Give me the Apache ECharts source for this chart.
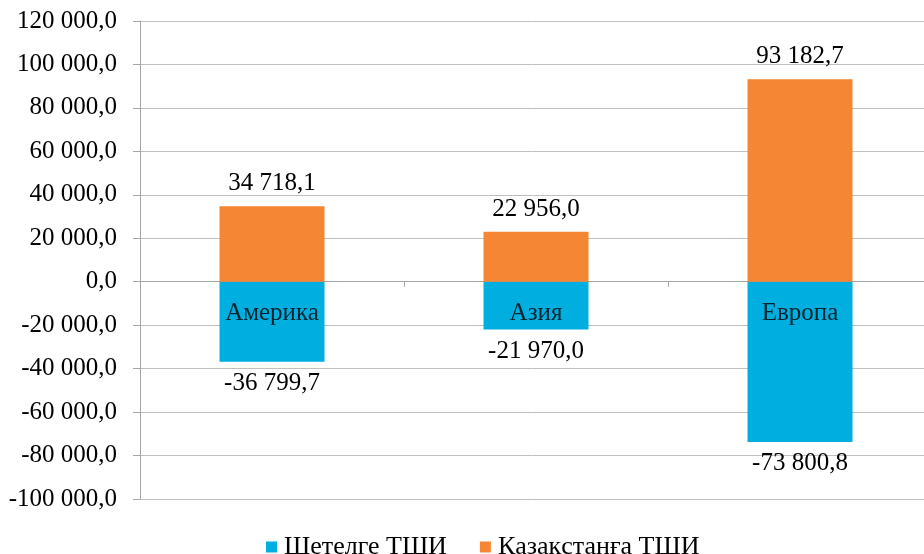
<!DOCTYPE html>
<html><head><meta charset="utf-8">
<script src="https://cdn.jsdelivr.net/npm/echarts@6/dist/echarts.min.js"></script>
<style>html,body{margin:0;padding:0;background:#fff}#c{width:924px;height:554px}</style>
</head><body><div id="c"></div>
<script>
const categories = ['Америка', 'Азия', 'Европа'];
const outward = [-36799.7, -21970.0, -73800.8];
const inward = [34718.1, 22956.0, 93182.7];
const seriesNames = ['Шетелге ТШИ', 'Қазақстанға ТШИ'];

function fmt(v) {
  const neg = v < 0;
  const s = Math.abs(v).toFixed(1).split('.');
  const int = s[0].replace(/\B(?=(\d{3})+(?!\d))/g, ' ');
  return (neg ? '-' : '') + int + ',' + s[1];
}
const FONT = '"Liberation Serif", "Times New Roman", serif';
const FS = 25;
const chart = echarts.init(document.getElementById('c'));
chart.setOption({
  animation: false,
  textStyle: { fontFamily: FONT },
  grid: { left: 140, width: 792, top: 21, bottom: 55, outerBoundsMode: 'none', containLabel: false },
  legend: {
    left: 261, top: 529, itemGap: 33, itemWidth: 11, itemHeight: 11, icon: 'rect',
    textStyle: { fontFamily: FONT, fontSize: 26, color: '#000', padding: [0, 0, 0, 2] },
    data: seriesNames
  },
  xAxis: {
    type: 'category', data: categories,
    axisLine: { onZero: true, lineStyle: { color: '#a6a6a6', width: 1 } },
    axisTick: { show: true, length: 5, lineStyle: { color: '#a6a6a6' } },
    axisLabel: { show: false }
  },
  yAxis: {
    type: 'value', min: -100000, max: 120000, interval: 20000,
    axisLine: { show: true, lineStyle: { color: '#a6a6a6' } },
    axisTick: { show: true, length: 7, lineStyle: { color: '#a6a6a6' } },
    splitLine: { lineStyle: { color: '#bfbfbf' } },
    axisLabel: { color: '#000', fontSize: FS, fontFamily: FONT, margin: 23, formatter: v => fmt(v) }
  },
  series: [
    {
      name: seriesNames[0], type: 'bar', stack: 'a', data: outward, barWidth: 105,
      itemStyle: { color: '#00aee0' },
      label: { show: true, position: 'bottom', distance: 9, color: '#000', fontSize: FS, fontFamily: FONT, formatter: p => fmt(p.value) }
    },
    {
      name: seriesNames[1], type: 'bar', stack: 'a', data: inward, barWidth: 105,
      itemStyle: { color: '#f58634' },
      label: { show: true, position: 'top', distance: 10, color: '#000', fontSize: FS, fontFamily: FONT, formatter: p => fmt(p.value) }
    },
    {
      name: 'categoryLabels', type: 'scatter', z: 10, symbolSize: 0, silent: true,
      data: categories.map(c => [c, 0]),
      label: { show: true, position: 'bottom', distance: 19, color: '#000', fontSize: FS, fontFamily: FONT, formatter: p => p.value[0] }
    }
  ]
});
</script></body></html>
